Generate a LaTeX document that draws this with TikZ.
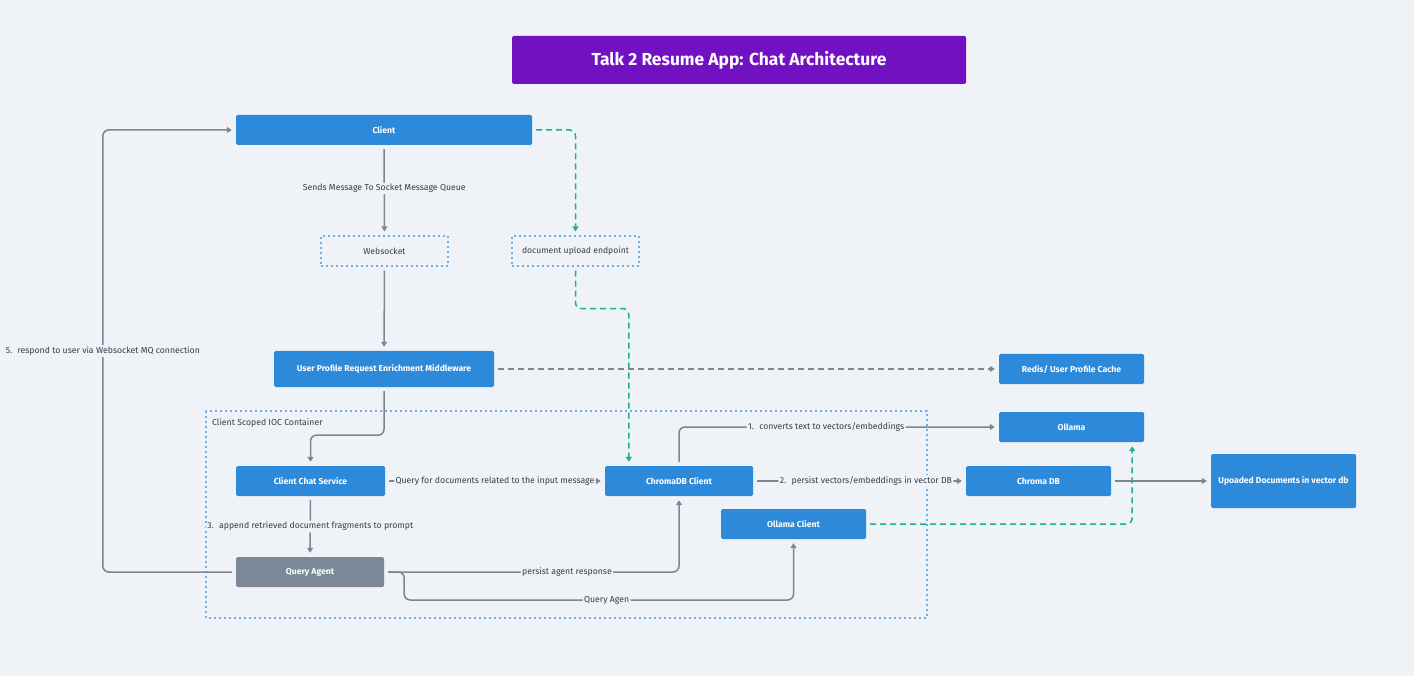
\documentclass[tikz,border=0pt]{standalone}
\usepackage{fontspec}
\setmainfont{Fira Sans}
\usetikzlibrary{arrows.meta,positioning}
\definecolor{bgcol}{HTML}{EFF3F7}
\definecolor{boxblue}{HTML}{2D89D9}
\definecolor{agentgray}{HTML}{7A8897}
\definecolor{titlepurple}{HTML}{7211C2}
\definecolor{linegray}{HTML}{7B8794}
\definecolor{docgreen}{HTML}{1DAF93}
\definecolor{dotblue}{HTML}{6AAFEC}
\definecolor{lbltext}{HTML}{353D49}
\begin{document}
\begin{tikzpicture}[x=1pt,y=-1pt,
	box/.style={fill=boxblue,text=white,font=\fontsize{8.6}{10}\selectfont\bfseries,
		rounded corners=1.5pt,minimum height=30pt,inner sep=0pt},
	endpoint/.style={draw=dotblue,line width=1.2pt,dash pattern=on 2pt off 3pt,
		text=lbltext,font=\fontsize{8.6}{10}\selectfont,minimum width=127pt,minimum height=30pt,inner sep=0pt},
	lbl/.style={fill=bgcol,text=lbltext,font=\fontsize{8.7}{10}\selectfont,inner sep=1.5pt},
	flow/.style={draw=linegray,line width=1.5pt,rounded corners=6pt,shorten <=4pt,shorten >=4pt,
		-{Triangle[length=5pt,width=6pt]}},
	upload/.style={flow,draw=docgreen,dash pattern=on 6pt off 4pt,-{Triangle[length=5pt,width=6pt]},
		color=docgreen},
	cache/.style={flow,dash pattern=on 6pt off 4pt}]
\useasboundingbox[fill=bgcol] (0,0) rectangle (1414,676);

\node[box,fill=titlepurple,minimum width=454pt,minimum height=48pt,
	font=\fontsize{17.4}{20}\selectfont\bfseries] (title) at (739,60) {Talk 2 Resume App: Chat Architecture};

\node[box,minimum width=296pt] (client) at (384,130) {Client};
\node[endpoint] (ws) at (384.5,251) {Websocket};
\node[endpoint] (docup) at (575.5,251) {document upload endpoint};
\node[box,minimum width=220pt,minimum height=36pt] (mw) at (384,369) {User Profile Request Enrichment Middleware};
\node[box,minimum width=145pt] (redis) at (1071.5,369) {Redis/ User Profile Cache};
\node[box,minimum width=145pt] (ollama) at (1071.5,427) {Ollama};

\draw[dotblue,line width=1.2pt,dash pattern=on 2pt off 3pt] (206,411) rectangle (927,618);
\node[anchor=west,text=lbltext,font=\fontsize{8.7}{10}\selectfont,inner sep=0pt] (ioc) at (212,423) {Client Scoped IOC Container};

\node[box,minimum width=149pt] (ccs) at (310.5,481) {Client Chat Service};
\node[box,minimum width=148pt] (chc) at (679,481) {ChromaDB Client};
\node[box,minimum width=145pt] (chroma) at (1038.5,481) {Chroma DB};
\node[box,minimum width=145pt,minimum height=54pt] (docs) at (1283.5,481) {Upoaded Documents in vector db};
\node[box,minimum width=145pt] (oc) at (793.5,524) {Ollama Client};
\node[box,fill=agentgray,minimum width=148pt] (qa) at (310,572) {Query Agent};

\draw[flow] (client) -- node[lbl,pos=0.48]{Sends Message To Socket Message Queue} (ws);
\draw[flow] (ws) -- (mw);
\draw[flow] (mw.south) -- ++(0,48) -| (ccs.north);
\draw[upload] (client.east) -| (docup.north);
\draw[upload] (docup.south) -- ++(0,42) -| ([xshift=24pt]chc.north west);
\draw[cache] (mw.east) -- (redis.west);
\draw[flow] (chc.north) |- node[lbl,pos=0.73]{1.~ converts text to vectors/embeddings} (ollama.west);
\draw[flow] (ccs) -- node[lbl]{Query for documents related to the input message} (chc);
\draw[flow] (chc) -- node[lbl,pos=0.53]{2.~ persist vectors/embeddings in vector DB} (chroma);
\draw[flow] (chroma) -- (docs);
\draw[upload] (oc.east) -| ([xshift=-12pt]ollama.south east);
\draw[flow] (ccs) -- node[lbl]{3.~ append retrieved document fragments to prompt} (qa);
\draw[flow] (qa.east) -| node[lbl,pos=0.31]{persist agent response} (chc.south);
\draw[flow] (qa.east) -| ++(20,28) -| node[lbl,pos=0.26]{Query Agen} (oc.south);
\draw[flow] (qa.west) -| node[lbl,pos=0.75]{5.~ respond to user via Websocket MQ connection}
	([xshift=-133pt]client.west) -- (client.west);
\end{tikzpicture}
\end{document}
